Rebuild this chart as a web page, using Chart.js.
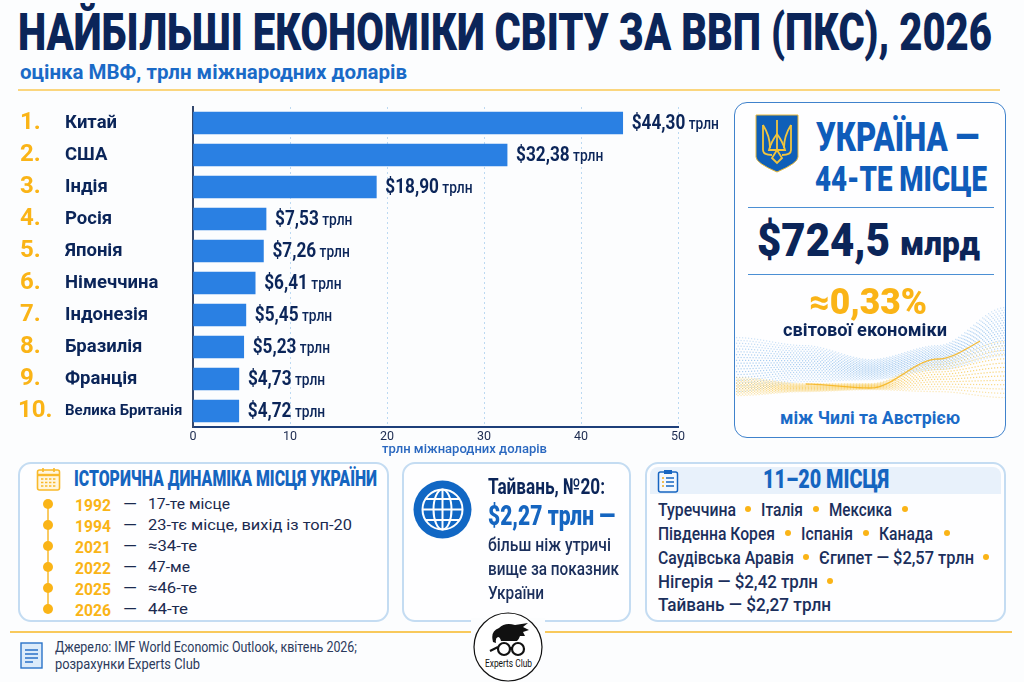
<!DOCTYPE html>
<html lang="uk">
<head>
<meta charset="utf-8">
<title>Найбільші економіки світу за ВВП (ПКС), 2026</title>
<script src="https://cdn.jsdelivr.net/npm/chart.js@4"></script>
<style>
  html, body { margin: 0; padding: 0; }
  body { width: 1024px; height: 682px; overflow: hidden; position: relative; background: #fcfdfe; font-family: Roboto, sans-serif; }
  canvas, svg { position: absolute; }
  .t { position: absolute; white-space: nowrap; line-height: 1; transform-origin: left center; }
  .panel { position: absolute; box-sizing: border-box; background: #fefeff; border: 2px solid #c4dcf2; border-radius: 13px; }
  .rule { position: absolute; height: 1px; }
</style>
</head>
<body>
<div class="panel" style="left:734px;top:102px;width:272px;height:336px;border:1.5px solid #3f82cc;"></div>
<div class="panel" style="left:18px;top:462px;width:371px;height:160px;"></div>
<div class="panel" style="left:402px;top:462px;width:229px;height:160px;"></div>
<div class="panel" style="left:645px;top:462px;width:361px;height:160px;"></div>
<div style="position:absolute;left:650px;top:467px;width:351px;height:27px;background:#e8f1fb;border-radius:8px 8px 0 0;"></div>

<div class="rule" style="left:18px;top:89px;width:982px;height:2px;background:#fbd67e;"></div>
<div class="rule" style="left:10px;top:631px;width:1002px;height:2px;background:#f8c95c;"></div>
<div class="rule" style="left:748px;top:207px;width:246px;background:#4b8fd4;"></div>
<div class="rule" style="left:748px;top:274px;width:246px;background:#4b8fd4;"></div>

<canvas id="wave" width="269" height="100" style="left:735.5px;top:303px;"></canvas>
<canvas id="gdpChart" width="720" height="356" style="left:0;top:95px;"></canvas>

<!-- emblem -->
<svg style="left:755px;top:114px" width="44" height="59" viewBox="0 0 44 59">
  <path d="M1 1H43V43Q43 49 22 58Q1 49 1 43Z" fill="#0f5fb8" stroke="#e8b93a" stroke-width="1"/>
  <g fill="none" stroke="#f2c53d" stroke-width="1.8">
    <path d="M22 6V36"/><path d="M22 36L17 44L22 49L27 44Z"/>
    <path d="M8 11V36Q8 41 17 41"/><path d="M36 11V36Q36 41 27 41"/>
    <path d="M8 11Q15 22 15 34"/><path d="M36 11Q29 22 29 34"/>
    <path d="M22 20Q16 28 14 36H30Q28 28 22 20Z"/>
  </g>
</svg>
<!-- calendar -->
<svg style="left:36px;top:467px" width="25" height="24" viewBox="0 0 25 24">
  <rect x="1.5" y="3" width="22" height="20" rx="2" fill="#fff6df" stroke="#f9b92a" stroke-width="1.6"/>
  <path d="M1.5 8H23.5" stroke="#f9b92a" stroke-width="2.4"/>
  <path d="M7 1V5M18 1V5" stroke="#f9b92a" stroke-width="1.6"/>
  <path d="M5 12H20M5 15.5H20M5 19H20" stroke="#f9b92a" stroke-width="1.6" stroke-dasharray="2.4 1.6"/>
</svg>
<!-- timeline axis -->
<svg style="left:40px;top:495px" width="16" height="122" viewBox="0 0 16 122">
  <path d="M8 8V114" stroke="#f7b92e" stroke-width="1.5"/>
</svg>
<!-- document -->
<svg style="left:20px;top:642px" width="23" height="27" viewBox="0 0 23 27">
  <rect x="1" y="1" width="21" height="25" fill="#dcebfa" stroke="#2a72c8" stroke-width="1.4"/>
  <path d="M5 8H18M5 12H18M5 16H18M5 20H13" stroke="#2a72c8" stroke-width="1.3"/>
</svg>
<!-- globe -->
<svg style="left:413px;top:480px" width="59" height="59" viewBox="0 0 59 59">
  <circle cx="29.5" cy="29.5" r="29" fill="#1167c4"/>
  <g fill="none" stroke="#fff" stroke-width="2">
    <circle cx="29.5" cy="29.5" r="20"/>
    <ellipse cx="29.5" cy="29.5" rx="9" ry="20"/>
    <path d="M29.5 9.5V49.5M9.5 29.5H49.5M12.5 19H46.5M12.5 40H46.5"/>
  </g>
</svg>
<!-- clipboard -->
<svg style="left:657px;top:469px" width="22" height="24" viewBox="0 0 22 24">
  <rect x="1.5" y="3" width="19" height="20" rx="2" fill="#f3f8fe" stroke="#1765c1" stroke-width="1.5"/>
  <rect x="7" y="1" width="8" height="4" fill="#1765c1"/>
  <path d="M5 9H7M5 13H7M5 17H7" stroke="#f0a91c" stroke-width="1.6"/>
  <path d="M9 9H17M9 13H17M9 17H17" stroke="#1765c1" stroke-width="1.5"/>
</svg>
<!-- logo -->
<div style="position:absolute;left:471px;top:618px;width:74px;height:20px;background:#fcfdfe;"></div>
<svg style="left:473px;top:612px" width="70" height="70" viewBox="0 0 70 70">
  <circle cx="35" cy="35" r="34" fill="#fff" stroke="#111" stroke-width="1.2"/>
  <path d="M20 30Q17 19 26 16Q32 10 42 13L55 11L50 15L56 18L50 20L52 24L47 24Q46 27 44 29H28Q27 25 25 25Q22 26 23 31Z" fill="#111"/>
  <g fill="none" stroke="#111" stroke-width="2.2">
    <circle cx="31" cy="37" r="6"/><circle cx="45" cy="37" r="6"/>
    <path d="M37 36H39M25 35L17 39"/>
  </g>
</svg>

<script>
// gdp ppp, trillion international dollars
const countries = ["Китай", "США", "Індія", "Росія", "Японія", "Німеччина", "Індонезія", "Бразилія", "Франція", "Велика Британія"];
const gdpValues = [44.3, 32.38, 18.9, 7.53, 7.26, 6.41, 5.45, 5.23, 4.73, 4.72];
const axisMax = 50;
const axisStep = 10;

const historyYears = ["1992", "1994", "2021", "2022", "2025", "2026"];
const historyPlaces = ["17-те місце", "23-тє місце, вихід із топ-20", "≈34-те", "47-ме", "≈46-те", "44-те"];

const NAVY = "#0b2559";
const BLUE = "#1565c0";
const ORANGE = "#fab417";

// text label, y is the vertical center, w squeezes the text to the reference width
function label(x, y, text, font, color, w) {
  var el = document.createElement("div");
  el.className = "t";
  el.textContent = text;
  el.style.left = x + "px";
  el.style.top = y + "px";
  el.style.font = font;
  el.style.lineHeight = "1";
  el.style.color = color;
  document.body.appendChild(el);
  var sx = w ? w / el.getBoundingClientRect().width : 1;
  el.style.transform = "translateY(-50%) scaleX(" + sx + ")";
  return el;
}

function dot(x, y, r, color) {
  var el = document.createElement("div");
  el.style.cssText = "position:absolute;border-radius:50%;";
  el.style.left = x - r + "px";
  el.style.top = y - r + "px";
  el.style.width = el.style.height = r * 2 + "px";
  el.style.background = color;
  document.body.appendChild(el);
}

label(18, 33, "НАЙБІЛЬШІ ЕКОНОМІКИ СВІТУ ЗА ВВП (ПКС), 2026", "900 52px Roboto", NAVY, 974);
label(20, 72, "оцінка МВФ, трлн міжнародних доларів", "bold 20px Roboto", "#1a6ac7", 387);
label(382, 449, "трлн міжнародних доларів", "500 12px Roboto", "#2a68c0", 165);

// ukraine card
label(816, 138, "УКРАЇНА —", "900 40px Roboto", "#0f5cba", 163);
label(815, 179, "44-ТЕ МІСЦЕ", "900 35px Roboto", "#0f5cba", 172);
label(757, 240, "$724,5", "900 46px Roboto", NAVY, 133);
label(900, 243, "млрд", "900 34px Roboto", NAVY, 80);
label(809, 302, "≈0,33%", "900 36px Roboto", ORANGE, 118);
label(783, 329, "світової економіки", "bold 19px Roboto", NAVY, 164);
label(780, 417, "між Чилі та Австрією", "bold 19px Roboto", "#1a6ac7", 180);

// history panel
label(74, 479, "ІСТОРИЧНА ДИНАМІКА МІСЦЯ УКРАЇНИ", "900 22px Roboto", BLUE, 303);
const rowY = [503.5, 524.5, 545.5, 566.5, 587.5, 608.5];
const rowW = [82, 204, 49, 42, 49, 40];
historyYears.forEach(function (year, i) {
  dot(48, rowY[i], 5, ORANGE);
  label(75, rowY[i] + 1, year, "bold 17px Roboto", ORANGE, 36);
  label(123, rowY[i], "—", "15px Roboto", "#1b2a4f", 14);
  label(148, rowY[i] + 1, historyPlaces[i], "15.5px Roboto", "#1b2a4f", rowW[i]);
});

// taiwan panel
label(488, 487, "Тайвань, №20:", "bold 22px Roboto", NAVY, 117);
label(488, 516, "$2,27 трлн —", "900 27px Roboto", BLUE, 127);
label(488, 544, "більш ніж утричі", "500 19px Roboto", "#1b2f5c", 123);
label(488, 568, "вище за показник", "500 19px Roboto", "#1b2f5c", 131);
label(488, 592, "України", "500 19px Roboto", "#1b2f5c", 56);

// places 11-20
label(763, 479, "11–20 МІСЦЯ", "900 25px Roboto", BLUE, 126);
const f = "500 19px Roboto";
const c = "#1b2f5c";
label(658, 509, "Туреччина", f, c, 78);
label(761, 509, "Італія", f, c, 42);
label(829, 509, "Мексика", f, c, 63);
label(658, 533, "Південна Корея", f, c, 117);
label(801, 533, "Іспанія", f, c, 52);
label(879, 533, "Канада", f, c, 54);
label(658, 557, "Саудівська Аравія", f, c, 136);
label(819, 557, "Єгипет — $2,57 трлн", f, c, 155);
label(658, 581, "Нігерія — $2,42 трлн", f, c, 160);
label(658, 604, "Тайвань — $2,27 трлн", f, c, 173);
[[748, 509], [816, 509], [905, 509], [788, 533], [866, 533], [947, 533], [806, 557], [986, 557], [830, 581]].forEach(function (p) {
  dot(p[0], p[1], 3, ORANGE);
});

// footer
label(55, 648, "Джерело: IMF World Economic Outlook, квітень 2026;", "14.5px Roboto", "#2b3a5c", 302);
label(55, 665, "розрахунки Experts Club", "14.5px Roboto", "#2b3a5c", 145);
label(485, 663, "Experts Club", "11px Roboto", "#111", 47);

// dotted ribbon in the card, decoration only
const wctx = document.getElementById("wave").getContext("2d");
const waveU = [0, 0.25, 0.5, 0.75, 1];
function bend(keys, u) {
  const i = Math.min(3, Math.floor(u * 4));
  let t = (u - waveU[i]) * 4;
  t = t * t * (3 - 2 * t);
  return keys[i] + (keys[i + 1] - keys[i]) * t;
}
function ribbon(upper, lower, rows, rgb, alpha) {
  for (let k = 0; k < rows; k++) {
    const s = k / (rows - 1);
    for (let x = k % 2 ? 1.5 : 0; x < 269; x += 3) {
      const u = x / 269;
      const y = bend(upper, u) + (bend(lower, u) - bend(upper, u)) * s;
      wctx.fillStyle = "rgba(" + rgb + "," + alpha * (0.55 + 0.45 * Math.sin(s * 3.14)) + ")";
      wctx.fillRect(x, y, 1.2, 1.2);
    }
  }
}
ribbon([34, 42, 56, 42, 4], [88, 78, 76, 66, 52], 20, "80,155,225", 0.5);
ribbon([74, 80, 80, 56, 38], [92, 88, 86, 88, 94], 14, "247,195,60", 0.7);
// the bright strand through the ribbon
wctx.strokeStyle = "rgba(246,180,30,.85)";
wctx.lineWidth = 1.3;
wctx.beginPath();
for (let x = 70; x < 245; x += 3) {
  const y = bend([86, 81, 85, 56, 30], x / 269);
  if (x === 70) wctx.moveTo(x, y); else wctx.lineTo(x, y);
}
wctx.stroke();

function money(v) {
  return "$" + v.toFixed(2).replace(".", ",");
}

// rank numbers and value labels next to the bars
const barNotes = {
  id: "barNotes",
  afterDatasetsDraw(chart) {
    const ctx = chart.ctx;
    const bars = chart.getDatasetMeta(0).data;
    ctx.save();
    ctx.textBaseline = "middle";
    ctx.textAlign = "left";
    bars.forEach(function (bar, i) {
      ctx.fillStyle = ORANGE;
      ctx.font = "bold 24px Roboto";
      ctx.fillText((i + 1) + ".", i === 9 ? 18 : 20, bar.y);

      ctx.fillStyle = NAVY;
      const text = money(gdpValues[i]);
      ctx.save();
      ctx.translate(bar.x + 9, bar.y + 1);
      ctx.scale(0.86, 1);
      ctx.font = "bold 20px Roboto";
      ctx.fillText(text, 0, 0);
      const w = ctx.measureText(text).width;
      ctx.font = "500 16px Roboto";
      ctx.fillText(" трлн", w, 1);
      ctx.restore();
    });
    ctx.restore();
  }
};

new Chart(document.getElementById("gdpChart"), {
  type: "bar",
  data: {
    labels: countries,
    datasets: [{ data: gdpValues, backgroundColor: "#2a80e3", barThickness: 22 }],
  },
  plugins: [barNotes],
  options: {
    indexAxis: "y",
    responsive: false,
    animation: false,
    layout: { padding: { left: 65, right: 42, top: 10, bottom: 0 } },
    plugins: { legend: { display: false }, tooltip: { enabled: false } },
    scales: {
      x: {
        min: 0,
        max: axisMax,
        afterFit(scale) { scale.height = 24; },
        border: { color: "#1d3f7a", width: 2, dash: [2, 3] },
        grid: { color: "#bcd9f2", drawTicks: false },
        ticks: { stepSize: axisStep, padding: 2, maxRotation: 0, color: "#1c2b50", font: { family: "Roboto", size: 12.5 } },
      },
      y: {
        afterFit(scale) { scale.width = 128; },
        border: { color: "#34486e", width: 2 },
        grid: { display: false, drawTicks: false },
        ticks: {
          crossAlign: "far",
          autoSkip: false,
          color: NAVY,
          font(ctx) {
            return { family: "Roboto", weight: "bold", size: ctx.index === 9 ? 15 : 18.5 };
          },
        },
      },
    },
  },
});
</script>
</body>
</html>
